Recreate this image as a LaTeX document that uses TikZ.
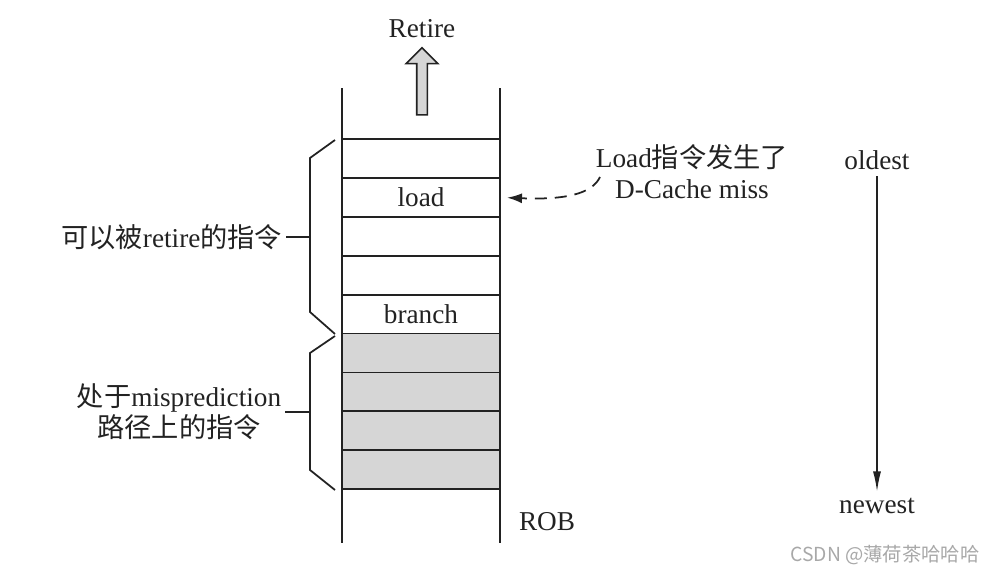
\documentclass[tikz,border=0pt]{standalone}
\usepackage{fontspec}
\usepackage{tikz}
\usepackage{xcolor}
\setmainfont{Liberation Serif}
\newfontfamily\cjk{Noto Sans CJK SC}
\usetikzlibrary{arrows.meta, positioning, shapes.arrows}
\definecolor{robgray}{HTML}{D6D6D6}
\definecolor{inkgray}{HTML}{222222}
\definecolor{markgray}{HTML}{A8A8A8}

\begin{document}
\begin{tikzpicture}[x=0.02cm, y=-0.02cm, node distance=0pt,
  font=\fontsize{15.5}{17.6}\selectfont, color=inkgray,
  cell/.style={rectangle, draw, line width=1pt, minimum width=3.16cm, minimum height=0.778cm, inner sep=0pt, outer sep=0pt},
  busy/.style={cell, fill=robgray},
  wall/.style={line width=1pt},
  brace/.style={line width=1pt, line join=miter},
  lab/.style={inner sep=2pt, align=center},
  dasharrow/.style={-{Latex[length=0.3cm, width=0.2cm]}, line width=1pt, dash pattern=on 0.24cm off 0.16cm},
  agearrow/.style={-{Latex[length=0.4cm, width=0.16cm]}, line width=0.8pt}]

\useasboundingbox (0,0) rectangle (996,574);

% ROB entries
\node[cell] (c1) at (421,158.5) {};
\node[cell, below=of c1] (c2) {load};
\node[cell, below=of c2] (c3) {};
\node[cell, below=of c3] (c4) {};
\node[cell, below=of c4] (c5) {branch};
\node[busy, below=of c5] (c6) {};
\node[busy, below=of c6] (c7) {};
\node[busy, below=of c7] (c8) {};
\node[busy, below=of c8] (c9) {};

\draw[wall] ([yshift=1.02cm]c1.north west) -- ([yshift=-1.08cm]c9.south west);
\draw[wall] ([yshift=1.02cm]c1.north east) -- ([yshift=-1.08cm]c9.south east);
\node[anchor=base] (roblab) at (547,530) {ROB};

% retire
\node[single arrow, draw, fill=robgray, line width=0.9pt, shape border rotate=90,
  minimum height=1.34cm, inner sep=0.09cm, single arrow head extend=0.21cm] (retarrow) at (422,84) {};
\node[anchor=base] (retlab) at (422,38) {Retire};

% braces
\draw[brace] (335,140) -- (310,158) -- (310,312) -- (335,334);
\draw[brace] (335,336) -- (310,353) -- (310,470) -- (335,490);
\coordinate (b1mid) at (310,237);
\coordinate (b2mid) at (310,412);
\node[lab, anchor=east] (canret) at (286,237) {{\cjk 可以被}retire{\cjk 的指令}};
\node[lab, anchor=east] (wrongpath) at (285,412) {{\cjk 处于}misprediction\\{\cjk 路径上的指令}};
\draw[brace] (canret.east) -- (b1mid);
\draw[brace] (wrongpath.east) -- (b2mid);

% d-cache miss
\node[lab] (misslab) at (692,172) {Load{\cjk 指令发生了}\\D-Cache miss};
\coordinate (missfrom) at (600,177);
\draw[dasharrow, shorten >=0.14cm] (missfrom) .. controls (592,194) and (565,200) .. (c2.east);

% age order
\node[anchor=base] (oldest) at (877,170) {oldest};
\node[anchor=base] (newest) at (877,513) {newest};
\draw[agearrow] (oldest) -- (newest);

\node[anchor=base, text=markgray, font=\cjk\fontsize{11}{13}\selectfont] (mark) at (885,561) {CSDN @薄荷茶哈哈哈};
\end{tikzpicture}
\end{document}
